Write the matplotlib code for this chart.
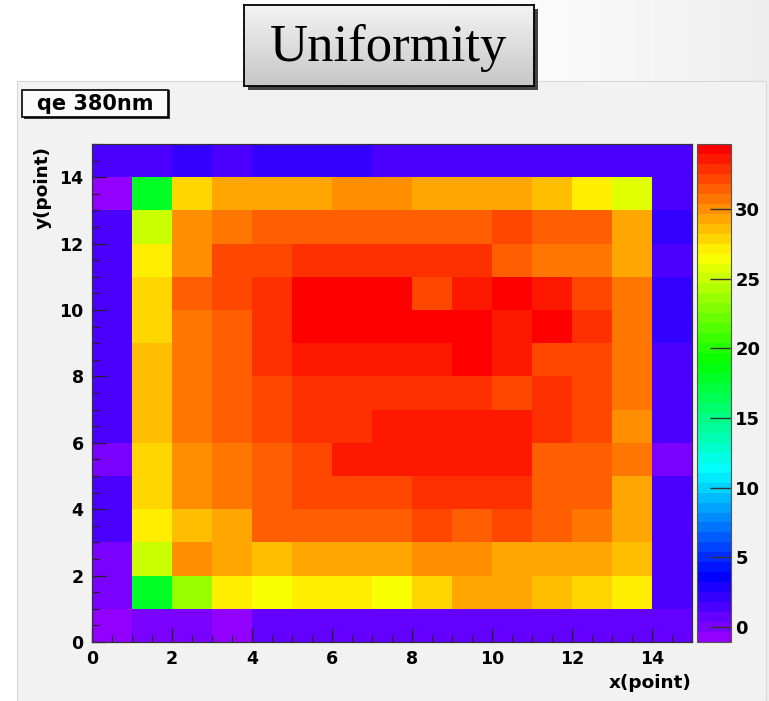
import colorsys

import matplotlib
matplotlib.use('Agg')
import matplotlib.pyplot as plt
import matplotlib.ticker as mticker
from matplotlib.colors import ListedColormap
from matplotlib.patches import Rectangle
import numpy as np


# quantum efficiency map at 380 nm, one value per scan point
# rows listed from y = 14 (top) down to y = 0
qe_rows = [
    [1.3, 1.3, 2.1, 1.6, 2.4, 2.4, 2.4, 1.5, 1.5, 1.5, 1.5, 1.5, 1.5, 1.5, 1.4],
    [-1.0, 17.8, 28.2, 29.2, 29.2, 29.2, 29.7, 29.7, 29.2, 29.2, 29.2, 28.7, 27.2, 25.9, 1.3],
    [1.6, 25.1, 29.7, 30.5, 31.3, 31.3, 31.3, 31.3, 31.8, 31.8, 32.4, 31.3, 31.3, 29.5, 2.1],
    [1.6, 27.2, 29.7, 31.9, 32.5, 33.1, 33.1, 33.1, 33.1, 32.6, 31.4, 31.0, 30.5, 29.5, 1.5],
    [1.6, 28.2, 31.3, 32.4, 33.1, 34.4, 34.4, 34.4, 32.2, 33.4, 34.4, 33.6, 32.2, 30.5, 2.2],
    [1.6, 28.0, 30.5, 31.8, 33.1, 34.4, 34.5, 34.7, 34.4, 34.3, 33.4, 34.4, 32.8, 30.5, 2.0],
    [1.5, 28.3, 30.5, 31.8, 32.8, 33.4, 33.4, 33.4, 33.4, 34.3, 33.4, 32.4, 31.9, 30.5, 1.3],
    [1.5, 28.3, 30.5, 31.8, 32.2, 32.8, 32.8, 32.8, 33.1, 33.1, 32.4, 32.8, 31.9, 30.5, 1.3],
    [1.5, 28.4, 30.5, 31.8, 32.4, 32.8, 32.8, 33.4, 33.4, 33.4, 33.4, 32.8, 31.9, 30.0, 1.3],
    [-0.2, 27.9, 30.0, 31.0, 31.8, 32.2, 33.4, 33.4, 33.4, 33.4, 33.4, 31.8, 31.4, 30.5, 0.3],
    [1.3, 28.2, 30.0, 30.7, 31.3, 32.1, 32.1, 32.1, 32.8, 32.8, 32.8, 31.3, 31.4, 29.5, 1.3],
    [1.7, 27.2, 28.7, 29.2, 31.3, 31.3, 31.3, 31.3, 32.2, 31.3, 32.2, 31.3, 30.5, 29.2, 1.5],
    [-0.2, 25.0, 30.0, 29.2, 28.7, 29.2, 29.2, 29.2, 29.9, 29.9, 29.2, 29.2, 29.2, 28.7, 1.1],
    [0.1, 17.8, 23.8, 27.4, 26.5, 27.2, 27.2, 26.2, 28.2, 29.2, 29.2, 28.7, 28.1, 27.4, 1.1],
    [-0.4, 0.3, 0.3, -0.7, 0.6, 0.6, 0.6, 0.6, 0.6, 0.6, 0.6, 0.6, 0.6, 0.6, 0.6],
]
n_points = 15
z_min, z_max = -1.1, 34.7
x_ticks = [0, 2, 4, 6, 8, 10, 12, 14]
y_ticks = [0, 2, 4, 6, 8, 10, 12, 14]
z_ticks = [0, 5, 10, 15, 20, 25, 30]

plt.rcParams.update({
    'font.family': 'DejaVu Sans',
    'font.weight': 'bold',
    'figure.dpi': 100,
})

W, H = 769, 701


def fx(px):
    return px / W


def fy(py):
    return 1 - py / H


# old ROOT "pretty" palette: 50 HLS hues from violet to red
root_colors = []
for i in range(50):
    hue = 280 - (i + 1) * 280 / 50
    root_colors.append(colorsys.hls_to_rgb(hue / 360, 0.5, 1.0))
root_cmap = ListedColormap(root_colors)

fig = plt.figure(figsize=(W / 100, H / 100), facecolor='white')

# slide background + canvas panel
bg = fig.add_axes([0, 0, 1, 1], zorder=-10)
bg.set_axis_off()
grad = np.linspace(0, 1, 200)
shade = 1 - 0.07 * np.clip((grad - 0.55) / 0.45, 0, 1) ** 1.2
bg.imshow(np.tile(shade, (50, 1)), cmap='gray', vmin=0, vmax=1,
          extent=[0, 1, 0, 1], aspect='auto')
bg.add_patch(Rectangle((fx(17), 0), fx(766) - fx(17), fy(81),
                       facecolor='#f2f2f2', edgecolor='#d8d8d8', lw=0.8))
bg.set_xlim(0, 1)
bg.set_ylim(0, 1)

# heat map
ax = fig.add_axes([fx(92), fy(642), fx(692) - fx(92), fy(144) - fy(642)])
grid = np.flipud(np.array(qe_rows))
edges = np.arange(n_points + 1)
mesh = ax.pcolormesh(edges, edges, grid, cmap=root_cmap, vmin=z_min, vmax=z_max)
ax.set_xlim(0, n_points)
ax.set_ylim(0, n_points)
ax.set_xticks(x_ticks)
ax.set_yticks(y_ticks)
ax.xaxis.set_minor_locator(mticker.MultipleLocator(0.5))
ax.yaxis.set_minor_locator(mticker.MultipleLocator(0.5))
ax.tick_params(which='major', direction='in', length=10, width=0.9,
               labelsize=12.5, pad=6, color='#222222')
ax.tick_params(which='minor', direction='in', length=5, width=0.8,
               color='#222222')
for s in ax.spines.values():
    s.set_linewidth(0.9)
    s.set_color('#333333')

# colour scale
cax = fig.add_axes([fx(697), fy(642), fx(731) - fx(697), fy(144) - fy(642)])
cb = fig.colorbar(mesh, cax=cax, ticks=z_ticks)
cb.outline.set_linewidth(0.8)
cb.outline.set_edgecolor('#555555')
cax.tick_params(direction='in', length=15, width=1.0, labelsize=13,
                pad=3, color='#333333')

fig.text(fx(692), fy(683), 'x(point)', ha='right', va='center', fontsize=13.3)
fig.text(fx(43), fy(146), 'y(point)', ha='center', va='top', rotation=90,
         fontsize=13.3)

# histogram title pave
bg.add_patch(Rectangle((fx(24), fy(119)), fx(168) - fx(22), fy(90) - fy(119),
                       facecolor='#333333', lw=0))
bg.add_patch(Rectangle((fx(22), fy(117)), fx(168) - fx(22), fy(90) - fy(117),
                       facecolor='#fbfbfb', edgecolor='black', lw=1.2))
fig.text(fx(95), fy(103.5), 'qe 380nm', ha='center', va='center', fontsize=15)

# slide heading box with gradient fill and drop shadow
bg.add_patch(Rectangle((fx(248), fy(90)), fx(534) - fx(244), fy(5) - fy(86),
                       facecolor='#444444', lw=0))
hax = fig.add_axes([fx(244), fy(86), fx(534) - fx(244), fy(5) - fy(86)])
vgrad = np.linspace(0.95, 0.78, 100).reshape(-1, 1)
hax.imshow(vgrad, cmap='gray', vmin=0, vmax=1, extent=[0, 1, 0, 1],
           aspect='auto')
hax.set_xticks([])
hax.set_yticks([])
for s in hax.spines.values():
    s.set_linewidth(1.3)
    s.set_color('black')
hax.text(0.5, 0.47, 'Uniformity', ha='center', va='center',
         family='Liberation Serif', fontweight='normal', fontsize=38,
         transform=hax.transAxes)

fig.savefig('out.png', dpi=100, facecolor=fig.get_facecolor())
